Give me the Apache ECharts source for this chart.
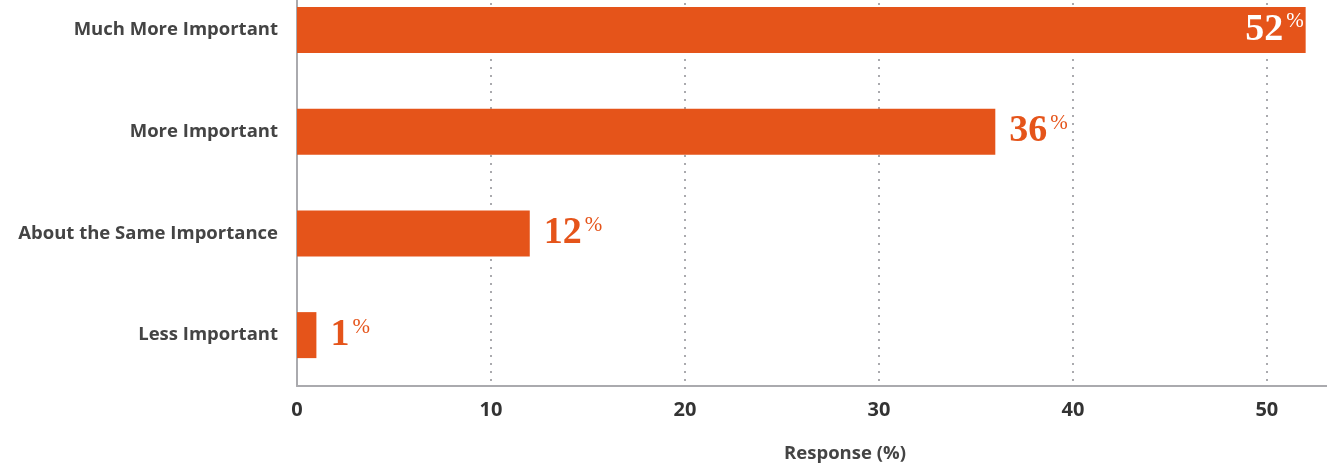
<!DOCTYPE html>
<html>
<head>
<meta charset="utf-8">
<script src="https://cdn.jsdelivr.net/npm/echarts@6/dist/echarts.min.js"></script>
<style>
  html, body { margin: 0; padding: 0; background: #fff; overflow: hidden; }
  /* the plot starts a little above the window, so the top bar sits near the edge */
  #chart { width: 1327px; height: 484px; margin-top: -21px; }
</style>
</head>
<body>
<div id="chart"></div>
<script>
// Survey responses: importance compared with before
const categories = ['Much More Important', 'More Important', 'About the Same Importance', 'Less Important'];
const responses = [52, 36, 12, 1];
const xTicks = [0, 10, 20, 30, 40, 50];
const axisTitle = 'Response (%)';

const orange = '#E5541A';
const sans = 'Open Sans';
const chart = echarts.init(document.getElementById('chart'));

const seriesData = responses.map(function (v, i) {
  const item = { value: v };
  // the longest bar carries its label inside, in white
  if (i === 0) {
    item.label = {
      position: 'insideRight',
      distance: 2,
      rich: {
        v: { color: '#fff' },
        p: { color: '#fff' }
      }
    };
  }
  return item;
});

chart.setOption({
  animation: false,
  grid: { left: 297, right: 0, top: 0, bottom: 77, containLabel: false },
  title: {
    text: axisTitle,
    left: 840,
    top: 460,
    textAlign: 'center',
    textStyle: { fontFamily: sans, fontWeight: 'bold', fontSize: 18.5, color: '#444' }
  },
  xAxis: {
    type: 'value',
    min: 0,
    max: 53.1,
    interval: 10,
    axisLine: { show: true, lineStyle: { color: '#aaaaae', width: 2 } },
    axisTick: { show: false },
    axisLabel: {
      margin: 14,
      fontFamily: sans,
      fontWeight: 'bold',
      fontSize: 20,
      color: '#333',
      showMaxLabel: false,
      formatter: function (v) { return xTicks.indexOf(v) >= 0 ? String(v) : ''; }
    },
    splitLine: {
      show: true,
      showMinLine: false,
      showMaxLine: false,
      lineStyle: { color: '#aaaaae', width: 2, type: [2, 6] }
    }
  },
  yAxis: {
    type: 'category',
    data: categories,
    inverse: true,
    axisLine: { show: true, lineStyle: { color: '#aaaaae', width: 2 } },
    axisTick: { show: false },
    axisLabel: {
      margin: 19,
      fontFamily: sans,
      fontWeight: 'bold',
      fontSize: 18.5,
      color: '#444'
    },
    splitLine: { show: false }
  },
  series: [{
    type: 'bar',
    data: seriesData,
    barWidth: 46,
    itemStyle: { color: orange },
    label: {
      show: true,
      position: 'right',
      distance: 14,
      formatter: function (p) { return '{v|' + p.value + '}{p|%}'; },
      rich: {
        v: { fontFamily: 'Liberation Serif', fontWeight: 'bold', fontSize: 38, color: orange },
        p: { fontFamily: 'Liberation Serif', fontSize: 21, color: orange, padding: [0, 0, 16, 3] }
      }
    }
  }]
});
</script>
</body>
</html>
